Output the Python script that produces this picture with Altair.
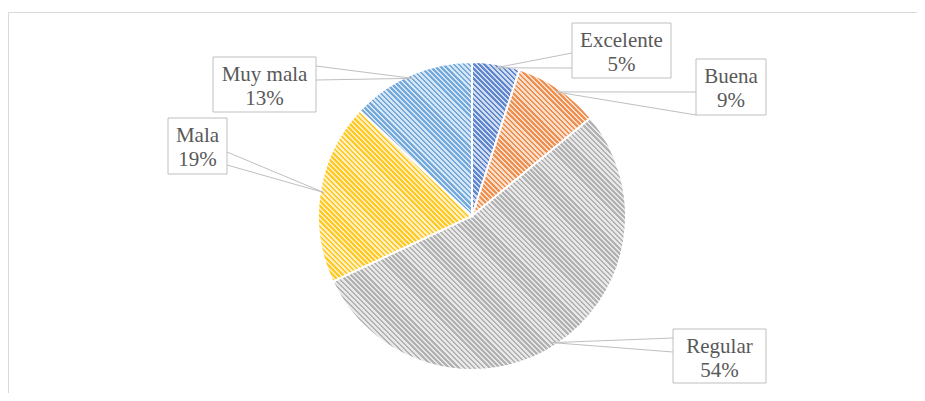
import math
import pandas as pd
import altair as alt

# ---- data ----
categories = ["Excelente", "Buena", "Regular", "Mala", "Muy mala"]
values = [5, 9, 54, 19, 13]
colors = ["#4472C4", "#ED7D31", "#A5A5A5", "#FFC000", "#5B9BD5"]

# ---- annotation layout (page pixels) ----
box_x0 = [572, 696, 673, 168, 213]
box_x1 = [671, 766, 766, 227, 316]
box_y0 = [23, 59, 329, 118, 57]
box_y1 = [78, 115, 383, 174, 112]
base_x = [572, 696, 673, 227, 316]
base_y0 = [53, 92, 338, 152, 66]
base_y1 = [68, 115, 352, 165, 80]

CX, CY, R = 472, 216, 154
TIP_R = 150
FONT = "Liberation Serif, Times New Roman, serif"
TXT = "#595959"
LINE = "#BFBFBF"

df = pd.DataFrame({
    "order": list(range(len(categories))),
    "cat": categories, "value": values,
    "bx0": box_x0, "bx1": box_x1, "by0": box_y0, "by1": box_y1,
    "basex": base_x, "basey0": base_y0, "basey1": base_y1,
})

total = sum(values)


def tint(color, t):
    r, g, b = int(color[1:3], 16), int(color[3:5], 16), int(color[5:7], 16)
    r, g, b = [round(c + (255 - c) * t) for c in (r, g, b)]
    return f"#{r:02x}{g:02x}{b:02x}"


def hatch(color, a0, a1, period=3.6, frac=0.5):
    angs = [a0, a1] + [k * math.pi / 2 for k in range(5) if a0 < k * math.pi / 2 < a1]
    xs = [0.0] + [R * math.sin(a) for a in angs]
    ys = [0.0] + [-R * math.cos(a) for a in angs]
    w = max(xs) - min(xs)
    h = max(ys) - min(ys)
    nx, ny = 1 / math.sqrt(2), -1 / math.sqrt(2)
    L = w * abs(nx) + h * abs(ny)
    a = L / (w * w * nx * nx + h * h * ny * ny)
    x1 = 0.0 if nx >= 0 else 1.0
    y1 = 0.0 if ny >= 0 else 1.0
    x2 = x1 + a * w * nx
    y2 = y1 + a * h * ny
    c1 = tint(color, 0.15)
    c2 = tint(color, 0.75)
    stops = []
    k = 0
    while k * period < L:
        o0 = min(1.0, k * period / L)
        o1 = min(1.0, (k + frac) * period / L)
        o2 = min(1.0, (k + 1) * period / L)
        stops += [{"offset": round(o0, 5), "color": c1},
                  {"offset": round(o1, 5), "color": c1},
                  {"offset": round(o1, 5), "color": c2},
                  {"offset": round(o2, 5), "color": c2}]
        k += 1
    return {"gradient": "linear", "x1": x1, "y1": y1, "x2": x2, "y2": y2,
            "stops": stops}


xs = alt.Scale(domain=[8, 917])
ys = alt.Scale(domain=[8, 393], reverse=True)

base = alt.Chart(df).transform_window(
    end="sum(value)", sort=[alt.SortField("order")]
).transform_calculate(
    start="datum.end - datum.value",
    mid="(datum.end - datum.value/2)",
)

# outer frame
frame = alt.Chart(pd.DataFrame({"a": [0]})).mark_rect(
    fill="white", stroke="#D9D9D9", strokeWidth=1
).encode(x=alt.value(0.5), x2=alt.value(2000), y=alt.value(4.5), y2=alt.value(2000))

layers = [frame]
cum = 0
for cat, v, c in zip(categories, values, colors):
    a0 = cum / total * 2 * math.pi
    cum += v
    a1 = cum / total * 2 * math.pi
    arc = base.transform_filter(alt.datum.cat == cat).mark_arc(
        outerRadius=R, fill=hatch(c, a0, a1), stroke="white", strokeWidth=2
    ).encode(
        theta=alt.Theta("start:Q", scale=alt.Scale(domain=[0, total], range=[0, 2 * math.pi])),
        theta2="end:Q",
        x=alt.value(CX - 8), y=alt.value(CY - 8),
    )
    layers.append(arc)

tips = base.transform_calculate(
    tipx=f"{CX} + {TIP_R}*sin(datum.mid/{total}*2*PI)",
    tipy=f"{CY} - {TIP_R}*cos(datum.mid/{total}*2*PI)",
    tx="(datum.bx0 + datum.bx1)/2",
    ty1="datum.by0 + 24",
    ty2="datum.by0 + 48",
    pct="datum.value + '%'",
)

wedge1 = tips.mark_rule(color=LINE, strokeWidth=1).encode(
    x=alt.X("basex:Q", scale=xs, axis=None), y=alt.Y("basey0:Q", scale=ys, axis=None),
    x2="tipx:Q", y2="tipy:Q")
wedge2 = tips.mark_rule(color=LINE, strokeWidth=1).encode(
    x=alt.X("basex:Q", scale=xs, axis=None), y=alt.Y("basey1:Q", scale=ys, axis=None),
    x2="tipx:Q", y2="tipy:Q")
boxes = tips.mark_rect(fill="white", stroke=LINE, strokeWidth=1).encode(
    x=alt.X("bx0:Q", scale=xs, axis=None), x2="bx1:Q",
    y=alt.Y("by0:Q", scale=ys, axis=None), y2="by1:Q")
t1 = tips.mark_text(font=FONT, fontSize=21, color=TXT, baseline="alphabetic", align="center").encode(
    x=alt.X("tx:Q", scale=xs, axis=None), y=alt.Y("ty1:Q", scale=ys, axis=None), text="cat:N")
t2 = tips.mark_text(font=FONT, fontSize=21, color=TXT, baseline="alphabetic", align="center").encode(
    x=alt.X("tx:Q", scale=xs, axis=None), y=alt.Y("ty2:Q", scale=ys, axis=None), text="pct:N")

layers += [wedge1, wedge2, boxes, t1, t2]

chart = alt.layer(*layers).properties(
    width=909, height=385, padding=0,
    autosize=alt.AutoSizeParams(type="none"),
    background="white",
).configure_view(strokeWidth=0)

chart.save("out.html", embed_options={"renderer": "svg", "actions": False})
